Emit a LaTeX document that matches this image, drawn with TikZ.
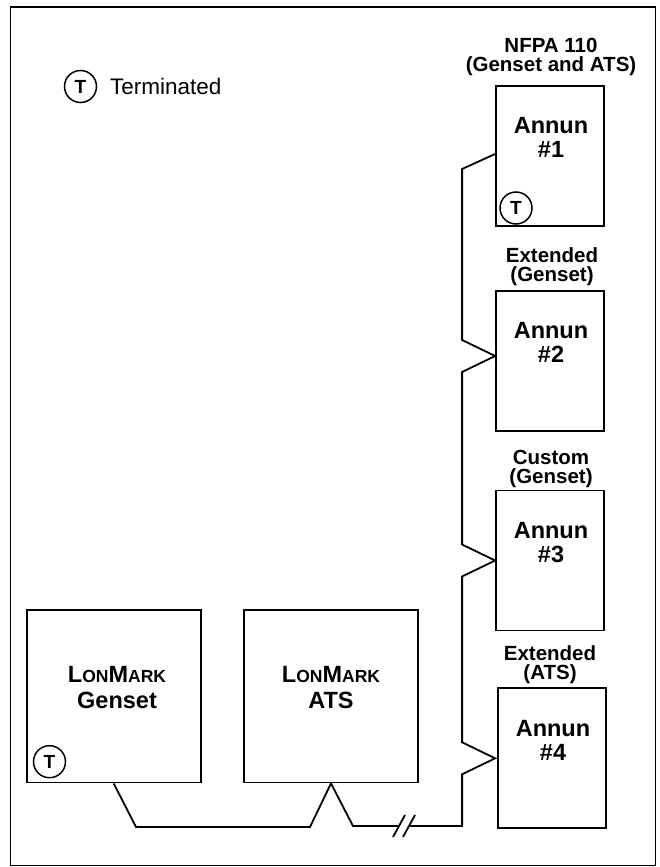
\documentclass[tikz,border=0pt]{standalone}
\usepackage{fontspec}
\setmainfont{Liberation Sans}
\newcommand{\lonmark}{L{\fontsize{17.5}{17.5}\selectfont ON}M{\fontsize{17.5}{17.5}\selectfont ARK}}

\begin{document}
\begin{tikzpicture}[x=1pt,y=-1pt,
  annbox/.style={draw,line width=1.8pt,minimum width=108pt,minimum height=140pt,inner sep=0pt},
  devbox/.style={draw,line width=1.8pt,minimum width=174pt,minimum height=172.5pt,inner sep=0pt},
  boxtext/.style={font=\bfseries\fontsize{23.5}{23.5}\selectfont,align=center,anchor=base,inner sep=0pt},
  tagtext/.style={font=\bfseries\fontsize{20.5}{19}\selectfont,align=center,anchor=base,inner sep=0pt},
  term/.style={draw,circle,line width=1.5pt,minimum size=32pt,inner sep=0pt,font=\bfseries\fontsize{19}{19}\selectfont},
  bus/.style={line width=1.8pt}]
  \useasboundingbox (0,0) rectangle (660,867);
  \draw[line width=1.8pt] (10.5,7) rectangle (655.5,865.5);
  % legend
  \node[term] (key) at (80.5,86.5) {T};
  \node[anchor=base west,inner sep=0pt,font=\fontsize{22.5}{22.5}\selectfont] (keytxt) at (110,94.3) {Terminated};
  % annunciators
  \node[annbox] (ann1) at (550,156) {};
  \node[annbox] (ann2) at (550,361) {};
  \node[annbox] (ann3) at (550,560.5) {};
  \node[annbox] (ann4) at (552,758.3) {};
  \node[boxtext] (ann1txt) at (551,157) {Annun\\\#1};
  \node[boxtext] (ann2txt) at (551,362) {Annun\\\#2};
  \node[boxtext] (ann3txt) at (551,562) {Annun\\\#3};
  \node[boxtext] (ann4txt) at (553,760) {Annun\\\#4};
  \node[tagtext] (ann1tag) at (551,71) {NFPA 110\\(Genset and ATS)};
  \node[tagtext] (ann2tag) at (552,281) {Extended\\(Genset)};
  \node[tagtext] (ann3tag) at (551,483) {Custom\\(Genset)};
  \node[tagtext] (ann4tag) at (550,679) {Extended\\(ATS)};
  \node[term] (ann1term) at (516,208) {T};
  % genset and ats
  \node[devbox] (genset) at (113.7,696.3) {};
  \node[devbox] (ats) at (331,696.3) {};
  \node[boxtext,font=\bfseries\fontsize{23.5}{26.5}\selectfont] (gensettxt) at (117,708.5) {\lonmark\\Genset};
  \node[boxtext,font=\bfseries\fontsize{23.5}{26.5}\selectfont] (atstxt) at (331,708.5) {\lonmark\\ATS};
  \node[term] (gensetterm) at (49.5,761.7) {T};
  % network
  \coordinate (p1) at ([yshift=2pt]ann1.west);
  \coordinate (p2) at ([yshift=5pt]ann2.west);
  \coordinate (p3) at (ann3.west);
  \coordinate (p4) at ([xshift=-2pt]ann4.west);
  \coordinate (b1) at ([shift={(-33pt,-15pt)}]p1);
  \foreach \i in {2,3,4} {
    \coordinate (a\i) at ([shift={(-33pt,16pt)}]p\i);
    \coordinate (b\i) at ([shift={(-33pt,-16pt)}]p\i);
  }
  \coordinate (brkR) at (409,826);
  \coordinate (brkL) at (399,826);
  \draw[bus] (p1) -- (b1) -- (a2) -- (p2) -- (b2) -- (a3) -- (p3) -- (b3) -- (a4) -- (p4) -- (b4) |- (brkR);
  \draw[bus] (brkL) -- ++(-46,0) -- (ats.south) -- ++(-21,43.5) -- ++(-174,0) -- (genset.south);
  \foreach \s in {brkL,brkR}
    \draw[bus] ([shift={(-6pt,-11pt)}]\s) -- ([shift={(6pt,11pt)}]\s);
\end{tikzpicture}
\end{document}
